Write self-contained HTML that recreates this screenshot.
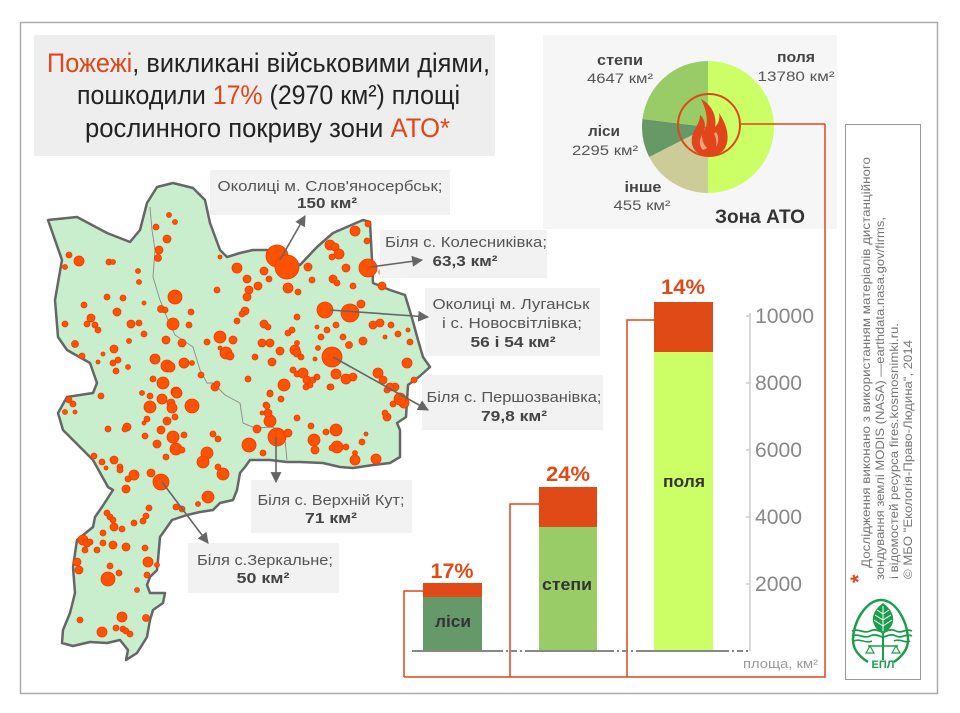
<!DOCTYPE html>
<html>
<head>
<meta charset="utf-8">
<style>
html,body{margin:0;padding:0;background:#fff;}
svg{display:block;}
text{font-family:"Liberation Sans","DejaVu Sans",sans-serif;}
</style>
</head>
<body>
<svg width="960" height="713" viewBox="0 0 960 713" xmlns="http://www.w3.org/2000/svg">
<defs>
<marker id="ah" viewBox="0 0 10 10" refX="9" refY="5" markerWidth="7" markerHeight="7" orient="auto" markerUnits="userSpaceOnUse">
<path d="M0,0 L10,5 L0,10 Z" fill="#666"/>
</marker>
<marker id="ah2" viewBox="0 0 10 10" refX="9" refY="5" markerWidth="11" markerHeight="11" orient="auto" markerUnits="userSpaceOnUse">
<path d="M0,0 L10,5 L0,10 Z" fill="#666"/>
</marker>
</defs>

<!-- outer frame -->
<rect x="20.5" y="22.5" width="917" height="671" fill="#fff" stroke="#aaa" stroke-width="1.5"/>

<!-- title box -->
<rect x="34" y="35" width="461" height="121" fill="#eeeeee"/>
<text x="47" y="72" font-size="27" fill="#222" textLength="443" lengthAdjust="spacingAndGlyphs"><tspan fill="#e0461a">Пожежі</tspan>, викликані військовими діями,</text>
<text x="77" y="104" font-size="27" fill="#222" textLength="383" lengthAdjust="spacingAndGlyphs">пошкодили <tspan fill="#e0461a">17%</tspan> (2970 км²) площі</text>
<text x="85" y="137" font-size="27" fill="#222" textLength="365" lengthAdjust="spacingAndGlyphs">рослинного покриву зони <tspan fill="#e0461a">АТО*</tspan></text>

<!-- pie box -->
<rect x="543" y="35" width="294" height="194" fill="#f6f6f6"/>
<path d="M708,127 L708,61 A66,66 0 0 1 708,193 Z" fill="#ccff66"/>
<path d="M708,127 L708,193 A66,66 0 0 1 649.2,157 Z" fill="#cccc99"/>
<path d="M708,127 L649.2,157 A66,66 0 0 1 642.5,119 Z" fill="#669966"/>
<path d="M708,127 L642.5,119 A66,66 0 0 1 708,61 Z" fill="#99cc66"/>
<circle cx="709" cy="125" r="31" fill="none" stroke="#e0461a" stroke-width="2"/>
<!-- flame -->
<path d="M709,156 C697,156 690,148 692,137 C694,128 700,124 700,115 C705,119 706,126 704,131 C709,123 707,111 701,99 C712,105 717,116 715,127 C719,123 720,118 719,113 C726,123 730,136 726,146 C723,153 716,156 709,156 Z" fill="#e0461a"/>
<path d="M703,150 C699,146 699,140 702,135 C702,141 704,145 707,148 Z" fill="#f3a27c"/>
<path d="M716,132 C719,136 719,142 716,147 C717,142 716,137 714,134 Z" fill="#f3a27c"/>
<line x1="741" y1="124" x2="825" y2="124" stroke="#e0461a" stroke-width="1.5"/>

<text x="620" y="65" font-size="15" font-weight="bold" fill="#444" text-anchor="middle" textLength="46" lengthAdjust="spacingAndGlyphs">степи</text>
<text x="620" y="83" font-size="14" fill="#555" text-anchor="middle" textLength="66" lengthAdjust="spacingAndGlyphs">4647 км²</text>
<text x="796" y="62" font-size="15" font-weight="bold" fill="#444" text-anchor="middle" textLength="38" lengthAdjust="spacingAndGlyphs">поля</text>
<text x="796" y="81" font-size="14" fill="#555" text-anchor="middle" textLength="77" lengthAdjust="spacingAndGlyphs">13780 км²</text>
<text x="604" y="136" font-size="15" font-weight="bold" fill="#444" text-anchor="middle" textLength="32" lengthAdjust="spacingAndGlyphs">ліси</text>
<text x="605" y="155" font-size="14" fill="#555" text-anchor="middle" textLength="66" lengthAdjust="spacingAndGlyphs">2295 км²</text>
<text x="643" y="192" font-size="15" font-weight="bold" fill="#444" text-anchor="middle" textLength="37" lengthAdjust="spacingAndGlyphs">інше</text>
<text x="642" y="210" font-size="14" fill="#555" text-anchor="middle" textLength="57" lengthAdjust="spacingAndGlyphs">455 км²</text>
<text x="760" y="223" font-size="19" font-weight="bold" fill="#333" text-anchor="middle" textLength="90" lengthAdjust="spacingAndGlyphs">Зона АТО</text>

<!-- vertical credits box -->
<rect x="845.5" y="124.5" width="75" height="555" fill="#fff" stroke="#999" stroke-width="1"/>
<text x="866" y="583" font-size="22" font-weight="bold" fill="#e0461a" transform="rotate(-90 866 583)">*</text>
<text x="870" y="568" font-size="12" fill="#777" transform="rotate(-90 870 568)" textLength="411" lengthAdjust="spacingAndGlyphs">Дослідження виконано з використанням матеріалів дистанційного</text>
<text x="884" y="580" font-size="12" fill="#777" transform="rotate(-90 884 580)" textLength="363" lengthAdjust="spacingAndGlyphs">зондування землі MODIS (NASA) —earthdata.nasa.gov/firms,</text>
<text x="898" y="579" font-size="12" fill="#777" transform="rotate(-90 898 579)" textLength="256" lengthAdjust="spacingAndGlyphs">і відомостей ресурса fires.kosmosnimki.ru.</text>
<text x="912" y="579" font-size="12" fill="#777" transform="rotate(-90 912 579)" textLength="239" lengthAdjust="spacingAndGlyphs">© МБО "Екологія-Право-Людина", 2014</text>

<!-- logo -->
<g stroke="#1b9e4b" fill="none">
<path d="M868,662 C857,655 853,648 853,640 C853,622 866,600 881,600 C896,600 908,622 908,640 C908,648 904,655 894,662" stroke-width="2.5"/>
<path d="M883,603 C894,611 899,624 883,634 C867,624 872,611 883,603 Z" fill="#1b9e4b" stroke="none"/>
<path d="M883,606 L883,660 M883,614 L877,610 M883,614 L889,610 M883,620 L875,615 M883,620 L891,615 M883,626 L874,620 M883,626 L892,620" stroke="#fff" stroke-width="1"/>
<path d="M883,632 L883,660" stroke-width="2"/>
<path d="M852,631 C858,628 864,634 870,631 C876,628 880,632 883,632 C886,632 890,628 896,631 C902,634 906,628 912,631" stroke-width="1.8"/>
<path d="M852,636 C858,633 864,639 870,636 C876,633 880,637 883,637 C886,637 890,633 896,636 C902,639 906,633 912,636" stroke-width="1.8"/>
<path d="M854,641 C860,638 866,644 872,641 M894,641 C900,638 906,644 910,641" stroke-width="1.6"/>
<path d="M868,646 L898,646" stroke-width="1.5"/>
<path d="M870,646 L866,653 L874,653 Z M896,646 L892,653 L900,653 Z" stroke-width="1.2"/>
</g>
<text x="883" y="668" font-size="11" font-weight="bold" fill="#1b9e4b" text-anchor="middle">ЕПЛ</text>

<!-- MAP -->
<path d="M48,220 L77,217 L107,233 L130,242 L140,230 L147,203 L157,187 L173,183 L193,188 L205,200 L210,223 L220,250 L227,257 L240,253 L253,250 L267,250 L285,257 L300,265 L317,247 L333,233 L363,220 L370,222 L372,260 L373,283 L390,290 L405,295 L412,318 L418,340 L423,357 L430,367 L420,376 L408,385 L406,417 L397,423 L400,430 L400,457 L390,463 L373,465 L353,468 L340,467 L323,463 L300,462 L287,462 L270,460 L250,460 L245,467 L240,473 L237,490 L233,500 L220,503 L213,510 L200,512 L187,515 L172,520 L165,530 L160,537 L158,560 L157,570 L150,577 L147,585 L150,593 L165,593 L163,603 L153,610 L150,620 L147,637 L137,653 L126,660 L128,650 L120,640 L107,643 L90,642 L73,646 L62,643 L63,630 L70,613 L75,593 L73,567 L77,540 L93,527 L95,517 L102,507 L113,490 L108,487 L93,460 L80,447 L63,430 L58,413 L67,397 L93,393 L97,383 L90,363 L67,350 L58,337 L55,300 L62,260 Z" fill="#c8eecd" stroke="#666" stroke-width="2.5" stroke-linejoin="round"/>
<path d="M150,207 L152,230 L155,250 L153,277 L160,300 L168,320 L175,335 L187,343 L193,347 L200,370 L207,383 L213,383 L225,395 L240,403 L243,423 L255,428 L273,427 L285,440 L287,460" fill="none" stroke="#8a8a8a" stroke-width="0.9"/>

<g fill="#ff5200" stroke="#ee3a00" stroke-width="0.8">
<circle cx="169" cy="215" r="2.5"/><circle cx="175" cy="222" r="2.5"/><circle cx="156" cy="227" r="3"/><circle cx="167" cy="239" r="4"/><circle cx="159" cy="250" r="4"/><circle cx="158" cy="258" r="3.5"/><circle cx="69" cy="255" r="3"/><circle cx="79" cy="261" r="5"/><circle cx="65" cy="267" r="2.5"/><circle cx="109" cy="262" r="3"/><circle cx="113" cy="262" r="2.5"/><circle cx="138" cy="271" r="2.5"/><circle cx="139" cy="282" r="2.5"/><circle cx="175" cy="297" r="7"/><circle cx="107" cy="297" r="3"/><circle cx="123" cy="298" r="3"/><circle cx="84" cy="305" r="3"/><circle cx="144" cy="303" r="2"/><circle cx="117" cy="312" r="4"/><circle cx="161" cy="309" r="3.5"/><circle cx="165" cy="310" r="3"/><circle cx="191" cy="312" r="3"/><circle cx="91" cy="318" r="4"/><circle cx="87" cy="324" r="3"/><circle cx="95" cy="325" r="3"/><circle cx="98" cy="330" r="3"/><circle cx="65" cy="324" r="3"/><circle cx="131" cy="324" r="4"/><circle cx="139" cy="323" r="3"/><circle cx="173" cy="324" r="6"/><circle cx="189" cy="325" r="3"/><circle cx="144" cy="334" r="3"/><circle cx="166" cy="340" r="4"/><circle cx="182" cy="343" r="4"/><circle cx="129" cy="341" r="2.5"/><circle cx="75" cy="344" r="3.5"/><circle cx="114" cy="349" r="4"/><circle cx="103" cy="354" r="2"/><circle cx="82" cy="356" r="3"/><circle cx="155" cy="359" r="5"/><circle cx="167" cy="366" r="6"/><circle cx="170" cy="367" r="5"/><circle cx="184" cy="363" r="5"/><circle cx="192" cy="363" r="2.5"/><circle cx="118" cy="360" r="3"/><circle cx="113" cy="363" r="3"/><circle cx="98" cy="362" r="2"/><circle cx="116" cy="371" r="3"/><circle cx="128" cy="367" r="2.5"/><circle cx="153" cy="379" r="3"/><circle cx="163" cy="383" r="6"/><circle cx="201" cy="375" r="3"/><circle cx="176" cy="392" r="5"/><circle cx="101" cy="396" r="3"/><circle cx="69" cy="400" r="3"/><circle cx="73" cy="404" r="3"/><circle cx="162" cy="399" r="5"/><circle cx="150" cy="404" r="3"/><circle cx="192" cy="406" r="7"/><circle cx="171" cy="403" r="4"/>
<circle cx="217" cy="290" r="3"/><circle cx="220" cy="257" r="2"/><circle cx="237" cy="268" r="5"/><circle cx="247" cy="279" r="4"/><circle cx="258" cy="286" r="4"/><circle cx="249" cy="290" r="4"/><circle cx="247" cy="297" r="4"/><circle cx="269" cy="279" r="3"/><circle cx="264" cy="271" r="4"/><circle cx="277" cy="256" r="11"/><circle cx="287" cy="267" r="12"/><circle cx="288" cy="288" r="5"/><circle cx="298" cy="292" r="3"/><circle cx="308" cy="267" r="4"/><circle cx="312" cy="280" r="3"/><circle cx="237" cy="321" r="3"/><circle cx="245" cy="311" r="4"/><circle cx="242" cy="314" r="3"/><circle cx="220" cy="337" r="6"/><circle cx="233" cy="340" r="4"/><circle cx="207" cy="342" r="3"/><circle cx="226" cy="353" r="6"/><circle cx="230" cy="356" r="4"/><circle cx="220" cy="348" r="2"/><circle cx="264" cy="324" r="4"/><circle cx="268" cy="327" r="3"/><circle cx="262" cy="343" r="4"/><circle cx="270" cy="343" r="4"/><circle cx="280" cy="351" r="4"/><circle cx="255" cy="357" r="3"/><circle cx="272" cy="362" r="4"/><circle cx="297" cy="343" r="2.5"/><circle cx="295" cy="350" r="5"/><circle cx="297" cy="353" r="4"/><circle cx="301" cy="357" r="3"/><circle cx="288" cy="333" r="3"/><circle cx="292" cy="330" r="3"/><circle cx="297" cy="317" r="3"/><circle cx="325" cy="310" r="8"/><circle cx="350" cy="313" r="9"/><circle cx="361" cy="304" r="4"/><circle cx="336" cy="325" r="3"/><circle cx="327" cy="330" r="3"/><circle cx="317" cy="327" r="2"/><circle cx="321" cy="337" r="3"/><circle cx="318" cy="348" r="2.5"/><circle cx="343" cy="337" r="3"/><circle cx="349" cy="345" r="3.5"/><circle cx="363" cy="341" r="4"/><circle cx="332" cy="357" r="10"/><circle cx="315" cy="359" r="2"/><circle cx="336" cy="374" r="5"/><circle cx="346" cy="379" r="5"/><circle cx="353" cy="377" r="4"/><circle cx="330" cy="387" r="3"/><circle cx="373" cy="325" r="4"/><circle cx="380" cy="323" r="4"/><circle cx="391" cy="325" r="3"/><circle cx="398" cy="334" r="3"/><circle cx="385" cy="337" r="2"/><circle cx="410" cy="342" r="3"/><circle cx="407" cy="363" r="5"/><circle cx="378" cy="373" r="5"/><circle cx="383" cy="380" r="4"/><circle cx="395" cy="387" r="4"/><circle cx="404" cy="403" r="5"/><circle cx="414" cy="380" r="3"/><circle cx="408" cy="330" r="2"/><circle cx="293" cy="370" r="3"/><circle cx="297" cy="374" r="3"/><circle cx="303" cy="373" r="5"/><circle cx="307" cy="380" r="4"/><circle cx="313" cy="380" r="3"/><circle cx="317" cy="377" r="3"/><circle cx="310" cy="385" r="3"/><circle cx="284" cy="385" r="6"/><circle cx="248" cy="379" r="3"/><circle cx="215" cy="387" r="4"/><circle cx="217" cy="384" r="3"/><circle cx="270" cy="393" r="3"/><circle cx="281" cy="399" r="3"/><circle cx="266" cy="405" r="3"/><circle cx="387" cy="390" r="3"/>
<circle cx="355" cy="231" r="5"/><circle cx="368" cy="224" r="3"/><circle cx="367" cy="241" r="3"/><circle cx="330" cy="245" r="5"/><circle cx="335" cy="247" r="4"/><circle cx="339" cy="254" r="5"/><circle cx="332" cy="257" r="3"/><circle cx="346" cy="268" r="4"/><circle cx="333" cy="279" r="4"/><circle cx="337" cy="283" r="3"/><circle cx="353" cy="286" r="3"/><circle cx="368" cy="268" r="9"/><circle cx="382" cy="286" r="4"/>
<circle cx="65" cy="412" r="2.5"/><circle cx="75" cy="412" r="2"/><circle cx="108" cy="429" r="3"/><circle cx="127" cy="427" r="4"/><circle cx="125" cy="429" r="3"/><circle cx="142" cy="393" r="2.5"/><circle cx="150" cy="396" r="3"/><circle cx="150" cy="407" r="6"/><circle cx="172" cy="408" r="5"/><circle cx="177" cy="393" r="5"/><circle cx="147" cy="419" r="3"/><circle cx="144" cy="423" r="2"/><circle cx="167" cy="421" r="4"/><circle cx="175" cy="417" r="3"/><circle cx="145" cy="436" r="3"/><circle cx="157" cy="444" r="4"/><circle cx="161" cy="430" r="4"/><circle cx="173" cy="437" r="6"/><circle cx="184" cy="435" r="3"/><circle cx="176" cy="449" r="6"/><circle cx="182" cy="450" r="3"/><circle cx="166" cy="457" r="3"/><circle cx="213" cy="434" r="3"/><circle cx="218" cy="439" r="3"/><circle cx="207" cy="453" r="6"/><circle cx="203" cy="462" r="6"/><circle cx="218" cy="467" r="3"/><circle cx="223" cy="474" r="6"/><circle cx="249" cy="445" r="7"/><circle cx="257" cy="429" r="4"/><circle cx="263" cy="453" r="3"/><circle cx="270" cy="421" r="6"/><circle cx="268" cy="413" r="4"/><circle cx="267" cy="406" r="3"/><circle cx="262" cy="413" r="2"/><circle cx="270" cy="394" r="3"/><circle cx="277" cy="437" r="9"/><circle cx="288" cy="433" r="4"/><circle cx="297" cy="418" r="3"/><circle cx="311" cy="426" r="3"/><circle cx="314" cy="440" r="6"/><circle cx="315" cy="450" r="4"/><circle cx="326" cy="432" r="3"/><circle cx="336" cy="430" r="6"/><circle cx="337" cy="447" r="6"/><circle cx="332" cy="448" r="3"/><circle cx="346" cy="447" r="3"/><circle cx="355" cy="453" r="2.5"/><circle cx="355" cy="460" r="5"/><circle cx="362" cy="442" r="3"/><circle cx="366" cy="434" r="2"/><circle cx="376" cy="459" r="5"/><circle cx="390" cy="387" r="4"/><circle cx="400" cy="399" r="6"/><circle cx="387" cy="417" r="4"/><circle cx="385" cy="413" r="3"/><circle cx="393" cy="404" r="3"/><circle cx="331" cy="387" r="3"/><circle cx="306" cy="387" r="3"/><circle cx="208" cy="497" r="6"/><circle cx="198" cy="504" r="2.5"/>
<circle cx="94" cy="456" r="3"/><circle cx="102" cy="462" r="3"/><circle cx="106" cy="468" r="2"/><circle cx="114" cy="460" r="4"/><circle cx="120" cy="467" r="3"/><circle cx="120" cy="470" r="3"/><circle cx="134" cy="475" r="5"/><circle cx="128" cy="479" r="3"/><circle cx="126" cy="489" r="4"/><circle cx="151" cy="473" r="4"/><circle cx="161" cy="482" r="8"/><circle cx="176" cy="507" r="3"/><circle cx="182" cy="509" r="3"/><circle cx="149" cy="508" r="3"/><circle cx="146" cy="516" r="3"/><circle cx="143" cy="521" r="3"/><circle cx="134" cy="523" r="3"/><circle cx="107" cy="513" r="3"/><circle cx="110" cy="517" r="3"/><circle cx="113" cy="520" r="3"/><circle cx="114" cy="527" r="4"/><circle cx="103" cy="533" r="3"/><circle cx="122" cy="529" r="3"/><circle cx="83" cy="540" r="5"/><circle cx="87" cy="543" r="4"/><circle cx="90" cy="542" r="3"/><circle cx="103" cy="543" r="3"/><circle cx="113" cy="545" r="4"/><circle cx="126" cy="547" r="4"/><circle cx="97" cy="550" r="3"/><circle cx="85" cy="550" r="3"/><circle cx="145" cy="548" r="3"/><circle cx="148" cy="562" r="5"/><circle cx="157" cy="565" r="2.5"/><circle cx="77" cy="562" r="4"/><circle cx="79" cy="570" r="4"/><circle cx="110" cy="566" r="3"/><circle cx="108" cy="579" r="7"/><circle cx="119" cy="573" r="3"/><circle cx="147" cy="575" r="3"/><circle cx="137" cy="590" r="2.5"/><circle cx="122" cy="617" r="5"/><circle cx="146" cy="618" r="3.5"/><circle cx="80" cy="620" r="3"/><circle cx="102" cy="632" r="5"/><circle cx="116" cy="628" r="3"/><circle cx="123" cy="629" r="3"/><circle cx="126" cy="631" r="3"/><circle cx="130" cy="634" r="3"/>
</g>
<circle cx="381" cy="272" r="3" fill="#ff9a80"/>

<!-- map label boxes -->
<rect x="210" y="170" width="240" height="45" fill="#f2f2f2"/>
<text x="330" y="191" font-size="15" fill="#555" text-anchor="middle" textLength="225" lengthAdjust="spacingAndGlyphs">Околиці м. Слов'яносербськ;</text>
<text x="327" y="208" font-size="15" font-weight="bold" fill="#444" text-anchor="middle" textLength="60" lengthAdjust="spacingAndGlyphs">150 км²</text>

<rect x="380" y="230" width="167" height="48" fill="#f2f2f2"/>
<text x="466" y="247" font-size="15" fill="#555" text-anchor="middle" textLength="162" lengthAdjust="spacingAndGlyphs">Біля с. Колесниківка;</text>
<text x="465" y="266" font-size="15" font-weight="bold" fill="#444" text-anchor="middle" textLength="65" lengthAdjust="spacingAndGlyphs">63,3 км²</text>

<rect x="425" y="288" width="175" height="68" fill="#f2f2f2"/>
<text x="511" y="309" font-size="15" fill="#555" text-anchor="middle" textLength="157" lengthAdjust="spacingAndGlyphs">Околиці м. Луганськ</text>
<text x="512" y="328" font-size="15" fill="#555" text-anchor="middle" textLength="140" lengthAdjust="spacingAndGlyphs">і с. Новосвітлівка;</text>
<text x="513" y="347" font-size="15" font-weight="bold" fill="#444" text-anchor="middle" textLength="85" lengthAdjust="spacingAndGlyphs">56 і 54 км²</text>

<rect x="422" y="375" width="181" height="55" fill="#f2f2f2"/>
<text x="514" y="402" font-size="15" fill="#555" text-anchor="middle" textLength="175" lengthAdjust="spacingAndGlyphs">Біля с. Першозванівка;</text>
<text x="514" y="421" font-size="15" font-weight="bold" fill="#444" text-anchor="middle" textLength="66" lengthAdjust="spacingAndGlyphs">79,8 км²</text>

<rect x="251" y="480" width="161" height="53" fill="#f2f2f2"/>
<text x="331" y="505" font-size="15" fill="#555" text-anchor="middle" textLength="147" lengthAdjust="spacingAndGlyphs">Біля с. Верхній Кут;</text>
<text x="331" y="523" font-size="15" font-weight="bold" fill="#444" text-anchor="middle" textLength="52" lengthAdjust="spacingAndGlyphs">71 км²</text>

<rect x="188" y="543" width="151" height="50" fill="#f2f2f2"/>
<text x="265" y="565" font-size="15" fill="#555" text-anchor="middle" textLength="136" lengthAdjust="spacingAndGlyphs">Біля с.Зеркальне;</text>
<text x="263" y="583" font-size="15" font-weight="bold" fill="#444" text-anchor="middle" textLength="53" lengthAdjust="spacingAndGlyphs">50 км²</text>

<!-- arrows -->
<g stroke="#666" stroke-width="1.6" fill="none">
<line x1="280" y1="260" x2="305" y2="216" marker-end="url(#ah2)"/>
<line x1="370" y1="267" x2="422" y2="260" marker-end="url(#ah2)"/>
<line x1="330" y1="310" x2="428" y2="317" marker-end="url(#ah2)"/>
<line x1="333" y1="357" x2="428" y2="410" marker-end="url(#ah2)"/>
<line x1="276" y1="437" x2="276" y2="482" marker-end="url(#ah2)"/>
<line x1="162" y1="482" x2="208" y2="543" marker-end="url(#ah2)"/>
</g>

<!-- bar chart -->
<line x1="750" y1="313" x2="750" y2="651" stroke="#ccc" stroke-width="1.5"/>
<g stroke="#ccc" stroke-width="1.5">
<line x1="746" y1="316" x2="750" y2="316"/><line x1="746" y1="383" x2="750" y2="383"/><line x1="746" y1="450" x2="750" y2="450"/><line x1="746" y1="517" x2="750" y2="517"/><line x1="746" y1="584" x2="750" y2="584"/>
</g>
<g font-size="21" fill="#888">
<text x="755" y="323" textLength="59" lengthAdjust="spacingAndGlyphs">10000</text>
<text x="755" y="390" textLength="47" lengthAdjust="spacingAndGlyphs">8000</text>
<text x="755" y="457" textLength="47" lengthAdjust="spacingAndGlyphs">6000</text>
<text x="755" y="524" textLength="47" lengthAdjust="spacingAndGlyphs">4000</text>
<text x="755" y="591" textLength="47" lengthAdjust="spacingAndGlyphs">2000</text>
</g>
<text x="743" y="668" font-size="13" fill="#999" textLength="75" lengthAdjust="spacingAndGlyphs">площа, км²</text>

<!-- orange connectors -->
<g stroke="#e0461a" stroke-width="1.5" fill="none">
<polyline points="825,124 825,677 404,677"/>
<polyline points="423,591 404,591 404,677"/>
<polyline points="539,504 510,504 510,677"/>
<polyline points="654,320 627,320 627,677"/>
</g>

<!-- bars -->
<rect x="423" y="583" width="59" height="14" fill="#df4a16"/>
<rect x="423" y="597" width="59" height="54" fill="#66996a"/>
<rect x="539" y="487" width="58" height="40" fill="#df4a16"/>
<rect x="539" y="527" width="58" height="124" fill="#99cc66"/>
<rect x="654" y="302" width="59" height="50" fill="#df4a16"/>
<rect x="654" y="352" width="59" height="299" fill="#ccff66"/>

<!-- baseline -->
<g stroke="#888" stroke-width="2">
<line x1="412" y1="651" x2="497" y2="651"/>
<line x1="527" y1="651" x2="608" y2="651"/>
<line x1="640" y1="651" x2="723" y2="651"/>
<line x1="497" y1="651" x2="527" y2="651" stroke-dasharray="6,3,2,3"/>
<line x1="608" y1="651" x2="640" y2="651" stroke-dasharray="6,3,2,3"/>
<line x1="723" y1="651" x2="750" y2="651" stroke-dasharray="6,3,2,3"/>
</g>

<g font-size="21" font-weight="bold" fill="#df4a16" text-anchor="middle">
<text x="452" y="578" textLength="43" lengthAdjust="spacingAndGlyphs">17%</text>
<text x="568" y="481" textLength="44" lengthAdjust="spacingAndGlyphs">24%</text>
<text x="683" y="294" textLength="44" lengthAdjust="spacingAndGlyphs">14%</text>
</g>
<g font-size="17" font-weight="bold" fill="#333" text-anchor="middle">
<text x="453" y="627" textLength="36" lengthAdjust="spacingAndGlyphs">ліси</text>
<text x="567" y="590" textLength="50" lengthAdjust="spacingAndGlyphs">степи</text>
<text x="684" y="487" textLength="42" lengthAdjust="spacingAndGlyphs">поля</text>
</g>
</svg>
</body>
</html>
